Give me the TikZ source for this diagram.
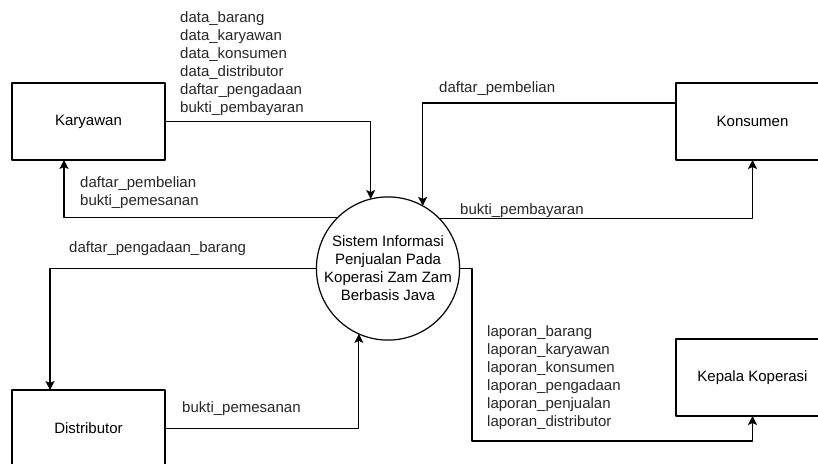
\documentclass[tikz,border=0pt]{standalone}
\usepackage{fontspec}
\setmainfont{Liberation Sans}
\usetikzlibrary{arrows,arrows.meta}

\begin{document}
\begin{tikzpicture}
			[line cap=round,line join=round,>={Stealth[length=9pt,width=9pt,inset=2pt]},x=1pt,y=-1pt,
			box/.style={draw,line width=1.2pt,minimum width=153pt,minimum height=77pt,inner sep=0pt,outer sep=0pt},
			proc/.style={draw,circle,line width=1.2pt,minimum size=142pt,inner sep=0pt,outer sep=0pt,align=center},
			lbl/.style={inner sep=0pt,align=left,anchor=west,text=black!85},
			flow/.style={->,line width=1.2pt}]
			\useasboundingbox (0,0) rectangle (818,463);
			\clip (0,0) rectangle (818,463);
			\fontsize{15}{18}\selectfont
			\node[box] (kar) at (88.5,121.5) {Karyawan};
			\node[box] (kon) at (752.5,121.5) {Konsumen};
			\node[box] (dis) at (88.5,428.5) {Distributor};
			\node[box] (kep) at (752.5,377.5) {Kepala Koperasi};
			\node[proc] (sis) at (388,268.5) {Sistem Informasi\\Penjualan Pada\\Koperasi Zam Zam\\Berbasis Java};
			\coordinate (belok) at (472,441);
			\draw [flow] (kar.east) -| (sis.104.7);
			\draw [flow] (sis.135.8) -| ([xshift=-24.5pt]kar.south);
			\draw [flow] ([yshift=18.5pt]kon.west) -| (sis.61.4);
			\draw [flow] (sis.44.2) -| (kon.south);
			\draw [flow] (sis.west) -| ([xshift=-38.5pt]dis.north);
			\draw [flow] (dis.east) -| (sis.246.8);
			\draw [flow] (sis.east) -| (belok) -| (kep.south);
			\node[lbl] (l1) at (180,64) {data\_barang\\data\_karyawan\\data\_konsumen\\data\_distributor\\daftar\_pengadaan\\bukti\_pembayaran};
			\node[lbl] (l2) at (80,192.5) {daftar\_pembelian\\bukti\_pemesanan};
			\node[lbl] (l3) at (439,89) {daftar\_pembelian};
			\node[lbl] (l4) at (460,211) {bukti\_pembayaran};
			\node[lbl] (l5) at (69,249) {daftar\_pengadaan\_barang};
			\node[lbl] (l6) at (182,409) {bukti\_pemesanan};
			\node[lbl] (l7) at (487,377.5) {laporan\_barang\\laporan\_karyawan\\laporan\_konsumen\\laporan\_pengadaan\\laporan\_penjualan\\laporan\_distributor};
		\end{tikzpicture}
\end{document}
